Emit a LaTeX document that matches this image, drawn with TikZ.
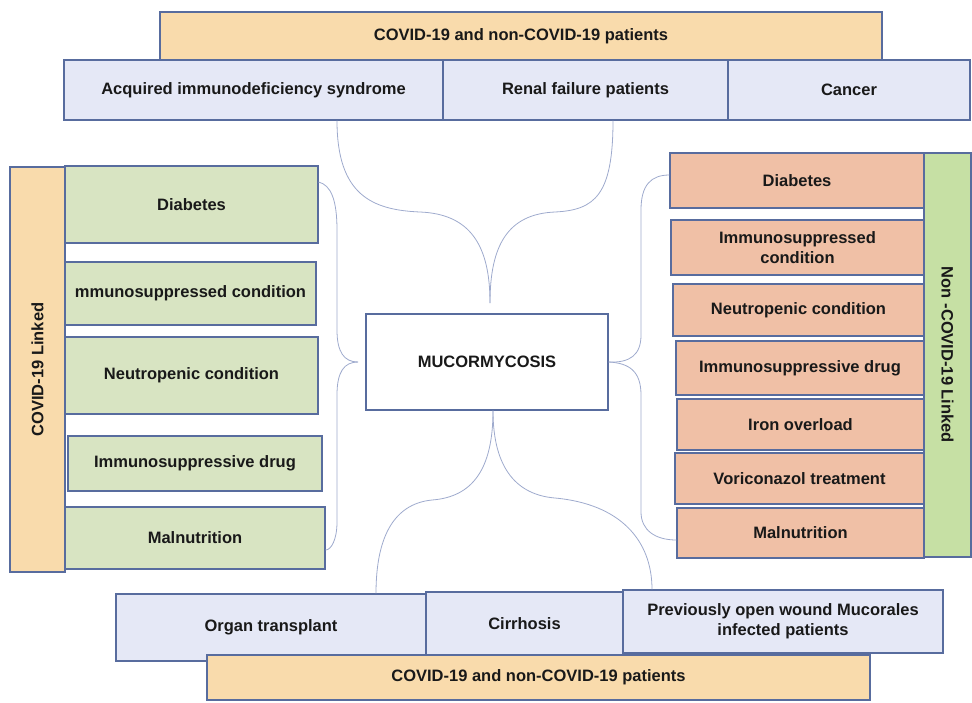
\documentclass[tikz,border=0pt]{standalone}
\usepackage{fontspec}
\setmainfont{Liberation Sans}
\definecolor{bandorange}{RGB}{249,219,172}
\definecolor{paleblue}{RGB}{229,232,246}
\definecolor{palegreen}{RGB}{216,228,194}
\definecolor{salmon}{RGB}{240,192,166}
\definecolor{stripgreen}{RGB}{198,224,164}
\definecolor{edge}{RGB}{88,108,158}
\definecolor{wire}{RGB}{158,170,205}
\definecolor{ink}{RGB}{25,25,25}
\begin{document}
\begin{tikzpicture}[x=1pt,y=-1pt,
  box/.style={rectangle, draw=edge, line width=1.1pt, inner sep=0pt, text=ink,
    font=\fontsize{16.5}{20}\selectfont\bfseries, align=center},
  bluebox/.style={box, fill=paleblue},
  orangebox/.style={box, fill=bandorange},
  greenbox/.style={box, fill=palegreen},
  salmonbox/.style={box, fill=salmon},
  stripbox/.style={box, fill=stripgreen},
  link/.style={draw=wire, line width=0.8pt}]
\useasboundingbox (0,0) rectangle (972,702);

% top row
\node[bluebox, minimum width=379, minimum height=60] (aids) at (253.5,90) {Acquired immunodeficiency syndrome};
\node[bluebox, minimum width=285, minimum height=60] (renal) at (585.5,90) {Renal failure patients};
\node[bluebox, minimum width=242, minimum height=60] (cancer) at (849,90) {Cancer};
\node[orangebox, minimum width=722, minimum height=48] (topband) at (521,36) {COVID-19 and non-COVID-19 patients};

% left column
\node[greenbox, minimum width=253, minimum height=77] (ldiab) at (191.5,204.5) {Diabetes};
\node[greenbox, minimum width=251, minimum height=63] (limm) at (190.5,293.5) {mmunosuppressed condition};
\node[greenbox, minimum width=253, minimum height=77] (lneu) at (191.5,375.5) {Neutropenic condition};
\node[greenbox, minimum width=254, minimum height=55] (ldrug) at (195,463.5) {Immunosuppressive drug};
\node[greenbox, minimum width=260, minimum height=62] (lmal) at (195,538) {Malnutrition};
\node[orangebox, minimum width=55, minimum height=405] (lstrip) at (37.5,369.5) {};
\node[text=ink, font=\fontsize{16.5}{20}\selectfont\bfseries, rotate=90] (llabel) at (lstrip.center) {COVID-19 Linked};

% right column
\node[salmonbox, minimum width=254, minimum height=55] (rdiab) at (797,180.5) {Diabetes};
\node[salmonbox, minimum width=253, minimum height=55] (rimm) at (797.5,247.5) {Immunosuppressed\\condition};
\node[salmonbox, minimum width=251, minimum height=52] (rneu) at (798.5,310) {Neutropenic condition};
\node[salmonbox, minimum width=248, minimum height=54] (rdrug) at (800,368) {Immunosuppressive drug};
\node[salmonbox, minimum width=247, minimum height=51] (riron) at (800.5,424.5) {Iron overload};
\node[salmonbox, minimum width=249, minimum height=51] (rvori) at (799.5,478.5) {Voriconazol treatment};
\node[salmonbox, minimum width=247, minimum height=50] (rmal) at (800.5,533) {Malnutrition};
\node[stripbox, minimum width=47, minimum height=404] (rstrip) at (947.5,355) {};
\node[text=ink, font=\fontsize{16.5}{20}\selectfont\bfseries, rotate=-90] (rlabel) at (rstrip.center) {Non -COVID-19 Linked};

% centre
\node[box, fill=white, minimum width=242, minimum height=96] (centre) at (487,362) {MUCORMYCOSIS};

% bottom row
\node[bluebox, minimum width=310, minimum height=67] (organ) at (271,627.5) {Organ transplant};
\node[bluebox, minimum width=197, minimum height=63] (cirr) at (524.5,623.5) {Cirrhosis};
\node[bluebox, minimum width=320, minimum height=63] (prev) at (783,621.5) {Previously open wound Mucorales\\infected patients};
\node[orangebox, minimum width=663, minimum height=45] (botband) at (538.5,677.5) {COVID-19 and non-COVID-19 patients};

% brace ends and tips
\coordinate (tA) at (aids.south -| 337,0);
\coordinate (tR) at (renal.south -| 613,0);
\coordinate (tTip) at (490,303);
\coordinate (bO) at (organ.north -| 376,0);
\coordinate (bP) at (prev.north -| 652,0);
\coordinate (bTip) at (centre.south -| 493,0);
\coordinate (lTop) at (ldiab.east |- 0,182);
\coordinate (lBot) at (lmal.east |- 0,550);
\coordinate (lTip) at (358,362);
\coordinate (rTop) at (rdiab.west |- 0,175);
\coordinate (rBot) at (rmal.west |- 0,540);
\coordinate (rTip) at (centre.east);

% top brace
\path[link] (tA) .. controls (337,195) and (372,210) .. (420,212)
  .. controls (470,214) and (490,245) .. (tTip);
\path[link] (tR) .. controls (613,195) and (595,210) .. (555,212)
  .. controls (508,214) and (490,245) .. (tTip);

% bottom brace
\path[link] (bTip) .. controls (493,470) and (472,497) .. (432,500)
  .. controls (392,504) and (376,540) .. (bO);
\path[link] (bTip) .. controls (493,470) and (518,495) .. (555,498)
  .. controls (620,504) and (652,540) .. (bP);

% left brace
\path[link] (lTop) .. controls (331,185) and (337,200) .. (337,230) -- (337,330)
  .. controls (337,352) and (344,362) .. (lTip);
\path[link] (lTip) .. controls (344,362) and (337,372) .. (337,395) -- (337,522)
  .. controls (337,540) and (331,550) .. (lBot);

% right brace
\path[link] (rTop) .. controls (651,175) and (641,185) .. (641,210) -- (641,335)
  .. controls (641,355) and (630,363) .. (rTip);
\path[link] (rTip) .. controls (630,363) and (641,372) .. (641,395) -- (641,512)
  .. controls (641,530) and (655,540) .. (rBot);
\end{tikzpicture}
\end{document}
